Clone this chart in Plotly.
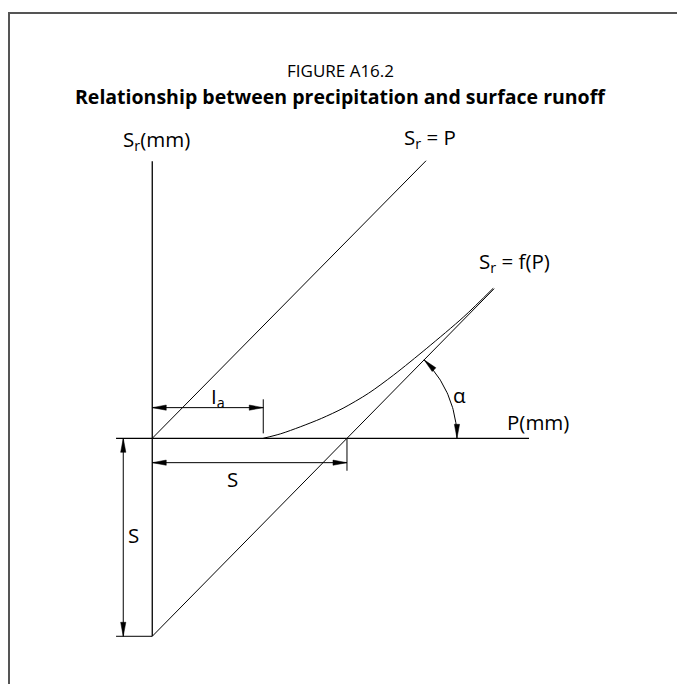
import numpy as np
import plotly.graph_objects as go

# ---- data (diagram units; S = 100) ----
S = 100.0
IA = 57.0
ALPHA_DEG = 45.5

axis_v_x = [0, 0]
axis_v_y = [-S, 140]
axis_h_x = [-18.6, 193.5]
axis_h_y = [0, 0]

line_eq_P = [0, 140.6]          # S_r = P
line_eq_Sr = [0, 140.2]
line_shift_P = [0, 175.6]       # S_r = P - S (asymptote)
line_shift_Sr = [-S, 75.6]

curve_P = [57, 66, 76, 87, 98, 111, 124, 141, 160, 175.1]
curve_Sr = [0, 2.3, 5.8, 10.1, 15.2, 22.7, 32.0, 45.5, 61.4, 75.8]

# ---- geometry of the page ----
W, H = 677, 684
X_RANGE = [-78.2, 269.5]
Y_RANGE = [-124.1, 221.4]
KX = W / (X_RANGE[1] - X_RANGE[0])   # px per unit
KY = H / (Y_RANGE[1] - Y_RANGE[0])

fig = go.Figure()

def seg(xs, ys, w=1.0):
    fig.add_trace(go.Scatter(x=xs, y=ys, mode="lines",
                             line=dict(color="black", width=w),
                             hoverinfo="skip", showlegend=False))

# axes
seg(axis_v_x, axis_v_y, 1.3)
seg(axis_h_x, axis_h_y, 1.3)
seg([axis_h_x[0], 0], [-S, -S], 1.0)
# lines
seg(line_eq_P, line_eq_Sr, 1.0)
seg(line_shift_P, line_shift_Sr, 1.0)
fig.add_trace(go.Scatter(x=curve_P, y=curve_Sr, mode="lines",
                         line=dict(color="black", width=1.0, shape="spline", smoothing=0.8),
                         hoverinfo="skip", showlegend=False))

shapes = []

def arrowhead(tu, tv, dx, dy, L=14, w=2.6):
    """tip at (tu,tv) in units, direction (dx,dy) in pixel space (y down)."""
    n = np.hypot(dx, dy)
    dx, dy = dx / n, dy / n
    tx, ty = tu * KX, -tv * KY
    bx, by = tx - L * dx, ty - L * dy
    px, py = -dy, dx
    pts = [(tx, ty), (bx + w * px, by + w * py), (bx - w * px, by - w * py)]
    path = "M " + " L ".join(f"{x / KX:.3f},{-y / KY:.3f}" for x, y in pts) + " Z"
    shapes.append(dict(type="path", path=path, xref="x", yref="y",
                       fillcolor="black", line=dict(color="black", width=0.5)))

def dim(u0, v0, u1, v1):
    seg([u0, u1], [v0, v1], 1.0)
    dxp = (u1 - u0) * KX
    dyp = -(v1 - v0) * KY
    arrowhead(u1, v1, dxp, dyp)
    arrowhead(u0, v0, -dxp, -dyp)

# Ia dimension
dim(0, 15.5, IA, 15.5)
seg([IA, IA], [2.5, 19.7], 1.0)
# horizontal S dimension
dim(0, -12.3, S, -12.3)
seg([S, S], [0, -16.4], 1.0)
# vertical S dimension
dim(-14.9, 0, -14.9, -S)

# alpha arc centered at the asymptote intercept (S, 0)
R = 110.0
th = np.radians(np.linspace(0, ALPHA_DEG, 40))
arc_u = S + R * np.cos(th) / KX
arc_v = R * np.sin(th) / KY
seg(list(arc_u), list(arc_v), 1.0)
t1 = th[-1]
arrowhead(arc_u[-1], arc_v[-1], -np.sin(t1), -np.cos(t1))
arrowhead(arc_u[0], arc_v[0], 0, 1)

# frame (left and top edges)
fx = 9 / W
fy = 1 - 13 / H
shapes.append(dict(type="path", xref="paper", yref="paper",
                   path=f"M {fx},0 L {fx},{fy} L 1,{fy}",
                   line=dict(color="#555555", width=2)))

FONT = "Open Sans"
ann = []

def txt(u, v, s, size=20.5, **kw):
    ann.append(dict(x=u, y=v, xref="x", yref="y", text=s, showarrow=False,
                    font=dict(family=FONT, size=size, color="black"),
                    xanchor="center", yanchor="middle", **kw))

txt(2.3, 150.7, "S<sub>r</sub>(mm)")
txt(142.6, 151.7, "S<sub>r</sub> = P")
txt(185.8, 89.2, "S<sub>r</sub> = f(P)")
txt(198.1, 8.4, "P(mm)")
txt(33.8, 21.0, "I<sub>a</sub>")
txt(41.3, -20.6, "S")
txt(-9.4, -48.8, "S")
txt(158.0, 22.0, "α")

ann.append(dict(x=340 / W, y=1 - 71 / H, xref="paper", yref="paper",
                text="FIGURE A16.2",
                showarrow=False, font=dict(family=FONT, size=17, color="black"),
                xanchor="center", yanchor="middle"))
ann.append(dict(x=340 / W, y=1 - 96 / H, xref="paper", yref="paper",
                text="<b>Relationship between precipitation and surface runoff</b>",
                showarrow=False, font=dict(family=FONT, size=19.5, color="black"),
                xanchor="center", yanchor="middle"))

fig.update_layout(
    width=W, height=H,
    margin=dict(l=0, r=0, t=0, b=0),
    paper_bgcolor="white", plot_bgcolor="white",
    xaxis=dict(range=X_RANGE, visible=False, fixedrange=True),
    yaxis=dict(range=Y_RANGE, visible=False, fixedrange=True),
    shapes=shapes, annotations=ann, showlegend=False,
)
fig.write_html(
    "out.html",
    config={"displayModeBar": False},
    post_script=(
        "document.body.style.margin='0';"
        "document.body.style.overflow='hidden';"
        "document.documentElement.style.overflow='hidden';"
    ),
)
